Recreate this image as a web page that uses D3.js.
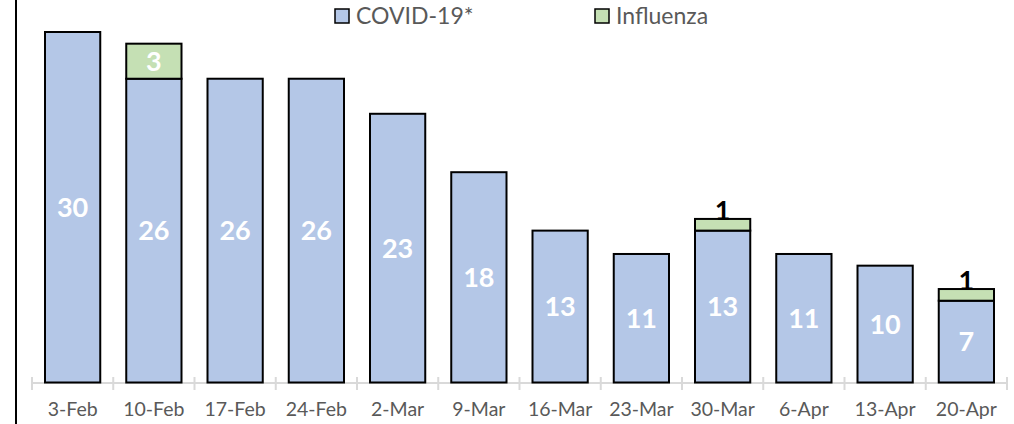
<!DOCTYPE html>
<html>
<head>
<meta charset="utf-8">
<script src="https://cdn.jsdelivr.net/npm/d3@7"></script>
<style>
html, body { margin: 0; padding: 0; background: #fff; }
svg { display: block; }
text { font-family: Lato, "Open Sans", sans-serif; }
</style>
</head>
<body>
<div id="chart"></div>
<script>
(function(){
var weeks = ["3-Feb", "10-Feb", "17-Feb", "24-Feb", "2-Mar", "9-Mar", "16-Mar", "23-Mar", "30-Mar", "6-Apr", "13-Apr", "20-Apr"];
var covid = [30, 26, 26, 26, 23, 18, 13, 11, 13, 11, 10, 7];
var influenza = [0, 3, 0, 0, 0, 0, 0, 0, 1, 0, 0, 1];
var seriesNames = ["COVID-19*", "Influenza"];
var seriesColors = ["#b4c7e7", "#c5e0b4"];

var W = 1014, H = 424;
var svg = d3.select("#chart").append("svg").attr("width", W).attr("height", H);

var x = d3.scaleBand().domain(weeks).range([32, 1007]).paddingInner(0.32).paddingOuter(0.16);
var y = d3.scaleLinear().domain([0, 30]).range([382.5, 32]);

// left border line
svg.append("line")
		.attr("x1", 16).attr("x2", 16).attr("y1", 0).attr("y2", H)
		.attr("stroke", "#000").attr("stroke-width", 2);

// axis
var axis = d3.axisBottom(x).tickSize(0).tickPadding(20);
var axisG = svg.append("g").attr("transform", "translate(0,382.5)").call(axis);
axisG.select(".domain").attr("stroke", "#d9d9d9").attr("stroke-width", 2);
axisG.selectAll(".tick text").attr("fill", "#595959").attr("font-size", 19.5).attr("font-family", "Lato, sans-serif");
// crossing tick marks on band edges
var edges = d3.range(weeks.length + 1).map(function(i){ return 32 + i * x.step(); });
svg.append("g").selectAll("line").data(edges).enter().append("line")
		.attr("x1", function(d){ return d; }).attr("x2", function(d){ return d; })
		.attr("y1", 377).attr("y2", 390)
		.attr("stroke", "#d9d9d9").attr("stroke-width", 2);

var rows = weeks.map(function(w, i){
	return { week: w, covid: covid[i], flu: influenza[i] };
});
var stack = d3.stack().keys(["covid", "flu"]);
var layers = stack(rows);

var barG = svg.append("g");
layers.forEach(function(layer, li){
	barG.selectAll(".s" + li).data(layer.filter(function(d){ return d[1] > d[0]; })).enter().append("rect")
			.attr("class", "s" + li)
			.attr("x", function(d){ return x(d.data.week); })
			.attr("width", x.bandwidth())
			.attr("y", function(d){ return y(d[1]); })
			.attr("height", function(d){ return y(d[0]) - y(d[1]); })
			.attr("fill", seriesColors[li])
			.attr("stroke", "#000").attr("stroke-width", 2);
});

// labels
layers.forEach(function(layer, li){
	layer.forEach(function(d){
		var v = d[1] - d[0];
		if (v <= 0) return;
		var cx = x(d.data.week) + x.bandwidth() / 2;
		var h = y(d[0]) - y(d[1]);
		if (h > 24) {
			svg.append("text")
					.attr("x", cx).attr("y", (y(d[0]) + y(d[1])) / 2)
					.attr("dy", "0.36em")
					.attr("text-anchor", "middle")
					.attr("fill", "#fff").attr("font-weight", "bold").attr("font-size", 27)
					.text(v);
		} else {
			svg.append("text")
					.attr("x", cx).attr("y", y(d[1]) + 1)
					.attr("text-anchor", "middle")
					.attr("fill", "#000").attr("font-weight", "bold").attr("font-size", 27)
					.text(v);
		}
	});
});

// legend
var legendX = [335, 595];
var legend = svg.append("g").selectAll("g").data(seriesNames).enter().append("g")
		.attr("transform", function(d, i){ return "translate(" + legendX[i] + ",0)"; });
legend.append("rect")
		.attr("x", 0).attr("y", 9).attr("width", 14).attr("height", 14)
		.attr("fill", function(d, i){ return seriesColors[i]; })
		.attr("stroke", "#000").attr("stroke-width", 1.5);
legend.append("text")
		.attr("x", 21).attr("y", 16).attr("dy", "0.36em")
		.attr("fill", "#595959").attr("font-size", 23)
		.text(function(d){ return d; });
})();
</script>
</body>
</html>
